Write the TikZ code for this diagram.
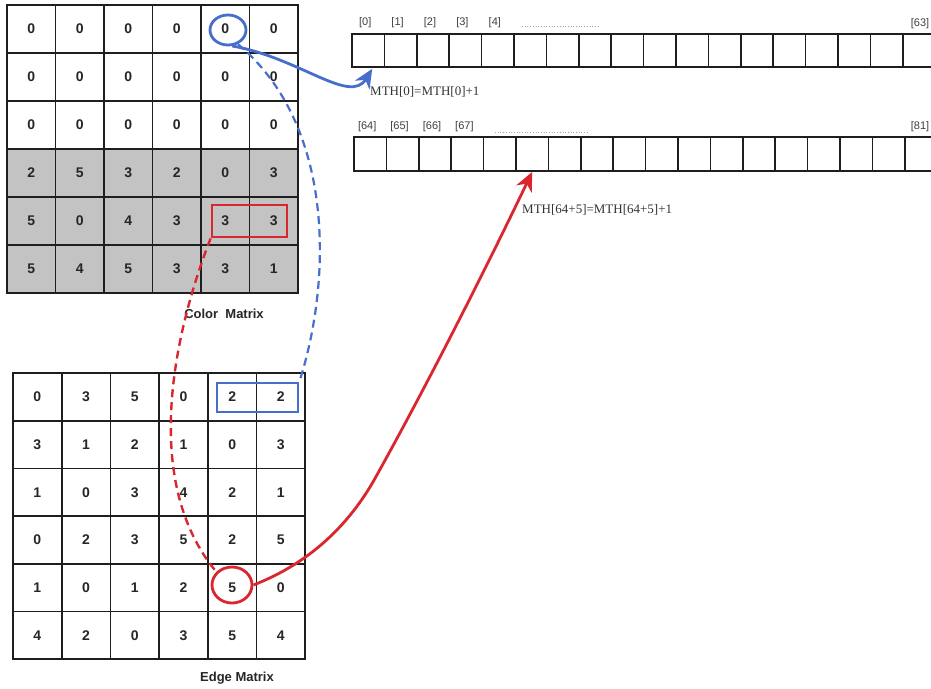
\documentclass[tikz,border=0pt]{standalone}
\usepackage{fontspec}
\setmainfont{Liberation Serif}
\setsansfont{Liberation Sans}
\usetikzlibrary{shapes.geometric,arrows.meta,calc}
\definecolor{myblue}{RGB}{72,110,205}
\definecolor{myred}{RGB}{218,38,46}
\definecolor{cellgray}{RGB}{195,195,195}
\definecolor{gridc}{RGB}{30,30,30}
\begin{document}
\begin{tikzpicture}[x=1pt,y=-1pt,
  digit/.style={font=\sffamily\bfseries\fontsize{14}{14}\selectfont, text=black!85},
  cmcell/.style={draw=gridc, line width=1.8pt, inner sep=0pt, minimum width=48.5pt, minimum height=48pt, digit},
  emcell/.style={draw=gridc, line width=1.8pt, inner sep=0pt, minimum width=48.7pt, minimum height=47.7pt, digit},
  arrcell/.style={draw=gridc, line width=1.7pt, inner sep=0pt, minimum width=32.4pt, minimum height=#1},
  idx/.style={font=\sffamily\fontsize{11}{11}\selectfont, text=black!75, inner sep=0pt},
  formula/.style={font=\fontsize{13}{13}\selectfont, text=black!80, inner sep=0pt, anchor=west},
  mtitle/.style={font=\sffamily\bfseries\fontsize{13}{13}\selectfont, text=black!85, inner sep=0pt},
  hl/.style={line width=2.8pt},
  dots/.style={draw=black!35, dotted, line width=0.7pt},
  bigtip/.style={-{Stealth[length=19pt,width=17pt,inset=6pt]}}
]
\useasboundingbox (0,0) rectangle (931,688);
\fill[white] (0,0) rectangle (931,688);

% Color matrix
\foreach \row [count=\r from 0] in {{0,0,0,0,0,0},{0,0,0,0,0,0},{0,0,0,0,0,0},{2,5,3,2,0,3},{5,0,4,3,3,3},{5,4,5,3,3,1}}{
  \ifnum\r<3 \def\fillc{white}\else\def\fillc{cellgray}\fi
  \foreach \v [count=\c from 0] in \row {
    \node[cmcell, fill=\fillc] (cm-\r-\c) at ({7+48.5*(\c+0.5)},{5+48*(\r+0.5)}) {\v};
  }
}
\node[mtitle] (cmt) at (224,314) {Color\ \ Matrix};

% Edge matrix
\foreach \row [count=\r from 0] in {{0,3,5,0,2,2},{3,1,2,1,0,3},{1,0,3,4,2,1},{0,2,3,5,2,5},{1,0,1,2,5,0},{4,2,0,3,5,4}}{
  \foreach \v [count=\c from 0] in \row {
    \node[emcell, fill=white] (em-\r-\c) at ({13+48.7*(\c+0.5)},{373+47.7*(\r+0.5)}) {\v};
  }
}
\node[mtitle] (emt) at (237,678) {Edge Matrix};

% Arrays
\foreach \i in {0,...,17}{
  \node[arrcell=33pt] (a\i) at ({352+32.4*(\i+0.5)},50.5) {};
  \node[arrcell=34pt] (b\i) at ({354+32.4*(\i+0.5)},154) {};
}
\foreach \i in {0,...,4}{
  \node[idx] (la\i) at ({352+32.4*(\i+0.5)-3},23) {[\i]};
}
\node[idx] (la63) at (920,24) {[63]};
\draw[dots] (522,26) -- (598,26);
\foreach \i/\t in {0/64,1/65,2/66,3/67}{
  \node[idx] (lb\i) at ({354+32.4*(\i+0.5)-3},127) {[\t]};
}
\node[idx] (lb81) at (920,127) {[81]};
\draw[dots] (495,132) -- (587,132);

\node[formula] (f1) at (370,92) {MTH[0]=MTH[0]+1};
\node[formula] (f2) at (522,210) {MTH[64+5]=MTH[64+5]+1};

% Highlights
\node[ellipse, draw=myblue, hl, minimum width=36pt, minimum height=30pt, inner sep=0pt] (bc) at (228,30) {};
\node[draw=myred, hl, minimum width=75pt, minimum height=32pt, inner sep=0pt] (cr) at (249.5,221) {};
\node[draw=myblue, hl, minimum width=81pt, minimum height=29pt, inner sep=0pt] (br) at (257.5,397.5) {};
\node[ellipse, draw=myred, hl, minimum width=40pt, minimum height=36pt, inner sep=0pt] (rc) at (232,585) {};

% Connectors
\draw[myblue, hl, bigtip] (bc.-75) .. controls (300,58) and (350,105) .. ($(a0.south)+(4,1)$);
\draw[myblue, line width=2.2pt, dash pattern=on 8pt off 5pt] (bc.-55) .. controls (335,125) and (332,280) .. (br.north east);
\draw[myred, line width=2.4pt, dash pattern=on 8pt off 5pt] (cr.south west) .. controls (175,330) and (140,480) .. (rc.140);
\draw[myred, hl, bigtip] (rc.east) .. controls (305,565) and (345,530) .. (373,482) .. controls (430,380) and (490,260) .. (b5.south);
\end{tikzpicture}
\end{document}
